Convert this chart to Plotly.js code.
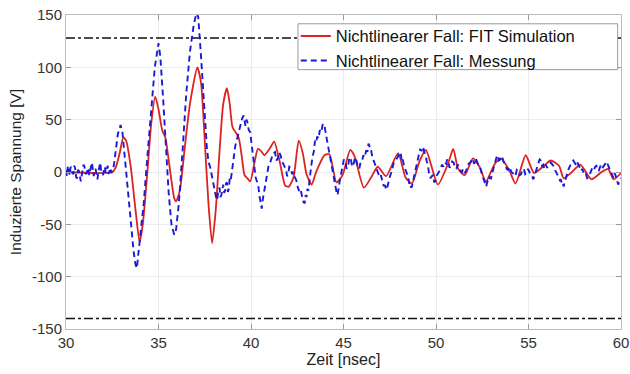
<!DOCTYPE html>
<html>
<head>
<meta charset="utf-8">
<script src="https://cdn.plot.ly/plotly-3.0.1.min.js"></script>
<style>html,body{margin:0;padding:0;background:#fff;}#chart{width:630px;height:374px;}</style>
</head>
<body>
<div id="chart"></div>
<script>
// FIT simulation (red, solid): [time ns, voltage V]
const simPoints = [[30,0],[32.5,0],[32.7,5],[32.9,18],[33.1,33],[33.25,30],[33.5,5],[33.75,-35],[33.98,-67],[34.15,-50],[34.4,0],[34.6,45],[34.82,72],[35.0,60],[35.2,40],[35.37,33],[35.6,5],[35.85,-25],[35.95,-28],[36.15,-18],[36.4,20],[36.7,65],[37.1,100],[37.3,85],[37.5,30],[37.7,-30],[37.9,-68],[38.1,-35],[38.3,20],[38.5,65],[38.7,80],[38.85,65],[39.0,43],[39.33,33],[39.5,15],[39.65,-3],[39.8,-6],[39.96,-9],[40.2,10],[40.37,22],[40.55,20],[40.72,16],[41.0,22],[41.25,29],[41.55,10],[41.85,-13],[42.05,-14],[42.3,-5],[42.58,30],[42.8,18],[43.0,-2],[43.28,-12],[43.52,0],[43.97,16],[44.24,17],[44.62,-10],[44.95,-3],[45.36,21],[45.6,15],[46.1,-15],[46.5,-5],[46.85,5],[47.3,-4],[47.95,18],[48.35,-5],[48.7,-11],[49.1,10],[49.45,21],[50.1,-12],[50.65,8],[50.93,22],[51.2,3],[51.55,-3],[52.0,13],[52.35,5],[52.7,-9],[53.15,7],[53.5,13],[53.95,2],[54.3,-11],[54.85,16],[55.3,-1],[55.9,7],[56.2,11],[56.65,6],[56.9,-6],[57.35,0],[57.8,7],[58.4,-7],[58.95,0],[59.3,3],[59.6,-7],[60,-1]];

// Measurement (blue, dashed): [time ns, voltage V]
const measPoints = [
[30.00,2],[30.05,-4],[30.10,6],[30.15,1],[30.20,-3],[30.25,5],[30.30,4],[30.35,-1],[30.40,-2],[30.45,6],[30.50,3],[30.55,-5],[30.60,-6],[30.65,2],[30.70,1],[30.75,-4],[30.80,-9],[30.85,-3],[30.90,2],[30.95,7],
[31.00,5],[31.05,-1],[31.10,-2],[31.15,3],[31.20,4],[31.25,-3],[31.30,0],[31.35,5],[31.40,9],[31.45,1],[31.50,-4],[31.55,2],[31.60,3],[31.65,-2],[31.70,-7],[31.75,0],[31.80,6],[31.85,9],[31.90,1],[31.95,-2],
[32.00,-3],[32.05,2],[32.10,5],[32.15,-1],[32.20,2],[32.25,6],[32.30,-2],[32.35,1],[32.40,4],[32.45,-1],[32.50,1],[32.55,3],[32.60,8],
[32.7,22],[32.8,36],[32.95,45],[33.05,38],[33.2,10],[33.35,-20],[33.5,-50],[33.65,-75],[33.75,-88],[33.83,-92],[33.9,-80],[34.0,-65],[34.2,-30],[34.4,15],[34.6,60],[34.8,100],[35.0,123],[35.1,110],[35.25,70],[35.4,20],[35.55,-20],[35.7,-50],[35.85,-60],[35.95,-55],[36.1,-30],[36.3,20],[36.5,75],[36.7,115],[36.9,140],[37.05,152],[37.15,148],[37.3,110],[37.45,65],[37.55,37],
[37.62,22],[37.7,10],[37.8,4],[37.9,-5],[37.97,-12],[38.05,-20],[38.11,-24],[38.17,-27],[38.23,-18],[38.3,-15],[38.35,-24],[38.4,-22],[38.45,-14],[38.5,-12],[38.55,-20],[38.6,-18],[38.65,-11],[38.7,-10],[38.75,-19],[38.8,-16],[38.85,-6],[38.9,-8],[38.95,-2],
[39.0,5],[39.07,14],[39.15,25],[39.24,31],[39.33,37],[39.39,43],[39.45,45],[39.52,51],[39.6,54],[39.65,46],[39.7,44],[39.75,50],[39.8,48],[39.88,40],[39.96,38],
[40.03,27],[40.1,15],[40.17,5],[40.25,-5],[40.32,-9],[40.4,-14],[40.45,-22],[40.5,-28],[40.54,-31],[40.58,-35],[40.64,-26],[40.7,-20],[40.77,-14],[40.85,-5],[40.9,-1],[40.94,5],
[41.02,8],[41.1,12],[41.2,18],[41.3,19],[41.37,11],[41.45,13],[41.52,19],[41.6,16],[41.67,10],[41.74,8],[41.82,4],[41.9,2],[41.95,-4],
[42.0,-3],[42.07,5],[42.15,4],[42.22,-2],[42.3,0],[42.37,-5],[42.45,-8],[42.52,-14],[42.6,-18],[42.67,-16],[42.75,-22],[42.82,-28],[42.9,-30],[42.95,-22],
[43.0,-24],[43.05,-16],[43.1,-18],[43.17,-4],[43.25,5],[43.32,14],[43.4,20],[43.46,30],[43.52,28],[43.58,34],[43.65,32],[43.72,40],[43.8,38],[43.88,46],[43.97,45],
[44.01,40],[44.05,36],[44.1,30],[44.15,27],[44.22,18],[44.3,12],[44.36,5],[44.42,2],[44.48,-8],[44.55,-12],[44.62,-19],[44.68,-22],[44.74,-14],[44.8,-8],[44.88,-1],[44.95,5],
[45.02,12],[45.1,10],[45.17,3],[45.25,6],[45.32,14],[45.4,12],[45.47,5],[45.55,8],[45.62,14],[45.7,11],[45.77,5],[45.85,3],[45.92,9],
[46.0,10],[46.07,16],[46.15,14],[46.22,20],[46.3,20],[46.35,27],[46.4,25],[46.45,20],[46.5,20],[46.57,13],[46.65,10],[46.72,6],[46.8,3],[46.87,-2],[46.95,-5],
[47.02,-3],[47.1,-8],[47.17,-13],[47.25,-13],[47.3,-17],[47.36,-15],[47.43,-9],[47.5,-5],[47.57,-1],[47.65,4],[47.72,9],[47.8,10],[47.87,12],[47.95,15],
[48.02,19],[48.1,17],[48.15,10],[48.2,12],[48.27,6],[48.34,3],[48.42,-2],[48.5,-5],[48.55,-11],[48.6,-10],[48.65,-15],[48.7,-14],[48.77,-8],[48.85,-2],[48.92,5],
[49.0,12],[49.07,17],[49.14,22],[49.22,20],[49.3,24],[49.37,19],[49.45,15],[49.5,10],[49.55,8],[49.62,-1],[49.7,-6],[49.77,-4],[49.85,-3],[49.9,-10],[49.95,-9],
[50.02,-4],[50.1,-2],[50.17,1],[50.25,3],[50.32,7],[50.4,5],[50.47,9],[50.55,8],[50.6,12],[50.67,10],[50.73,4],[50.8,6],[50.87,10],[50.95,9],
[51.02,5],[51.1,3],[51.17,7],[51.25,5],[51.32,1],[51.4,0],[51.47,3],[51.55,-1],[51.62,1],[51.7,4],[51.77,8],[51.85,9],[51.92,11],
[52.0,13],[52.05,8],[52.1,9],[52.15,13],[52.2,11],[52.28,7],[52.36,6],[52.43,1],[52.5,-3],[52.55,-6],[52.6,-8],[52.65,-12],[52.71,-14],[52.78,-9],[52.85,-10],[52.9,-5],[52.98,-6],
[53.04,-1],[53.1,3],[53.15,8],[53.2,10],[53.27,14],[53.34,16],[53.4,11],[53.47,12],[53.53,15],[53.6,13],[53.67,9],[53.75,7],[53.82,3],[53.9,2],[53.95,5],
[54.0,4],[54.07,0],[54.15,-1],[54.22,-4],[54.3,-3],[54.37,2],[54.45,1],[54.52,-3],[54.6,-2],[54.67,2],[54.75,3],[54.82,-2],[54.9,-1],[54.97,3],
[55.05,0],[55.12,-3],[55.2,-4],[55.25,-7],[55.3,-5],[55.37,-1],[55.45,2],[55.5,6],[55.55,8],[55.6,12],[55.66,11],[55.73,6],[55.8,7],[55.85,3],[55.9,5],[55.95,7],
[56.0,4],[56.07,5],[56.15,7],[56.2,9],[56.28,7],[56.34,6],[56.4,3],[56.47,1],[56.55,-2],[56.62,-5],[56.7,-8],[56.75,-7],[56.8,-11],[56.85,-10],[56.9,-14],[56.95,-10],
[57.0,-7],[57.05,-4],[57.1,0],[57.17,3],[57.25,6],[57.3,8],[57.35,10],[57.42,11],[57.5,8],[57.56,7],[57.62,10],[57.68,8],[57.75,5],[57.8,2],[57.85,1],[57.9,3],[57.97,-1],
[58.03,-3],[58.1,-2],[58.17,-6],[58.25,-5],[58.32,-2],[58.4,0],[58.45,4],[58.5,3],[58.55,2],[58.6,5],[58.67,6],[58.75,2],[58.8,1],[58.85,4],[58.9,6],[58.96,3],
[59.03,5],[59.1,7],[59.17,8],[59.23,10],[59.29,7],[59.35,4],[59.42,1],[59.5,-2],[59.55,-4],[59.6,-6],[59.65,-1],[59.7,-3],[59.75,-6],[59.8,-8],[59.85,-12],[59.87,-11],[59.93,-7],[60.0,-6]
];

// limit lines (black dash-dot)
const limitTime = [30, 60];
const upperLimit = [128, 128];
const lowerLimit = [-140, -140];

const simName = 'Nichtlinearer Fall: FIT Simulation';
const measName = 'Nichtlinearer Fall: Messung';
const xTicks = [30,35,40,45,50,55,60];
const yTicks = [-150,-100,-50,0,50,100,150];

const FONT = 'Liberation Sans, Arial, Helvetica, sans-serif';

const traces = [
  {x: limitTime, y: upperLimit, mode: 'lines', showlegend: false, hoverinfo: 'skip',
   line: {color: '#111111', width: 1.6, dash: 'dashdot'}},
  {x: limitTime, y: lowerLimit, mode: 'lines', showlegend: false, hoverinfo: 'skip',
   line: {color: '#111111', width: 1.6, dash: 'dashdot'}},
  {x: simPoints.map(p => p[0]), y: simPoints.map(p => p[1]), mode: 'lines', name: simName,
   line: {color: '#dd2222', width: 1.8, shape: 'spline', smoothing: 0.6}},
  {x: measPoints.map(p => p[0]), y: measPoints.map(p => p[1]), mode: 'lines', name: measName,
   line: {color: '#1a1ad6', width: 1.9, dash: '6px,4px'}}
];

const axisCommon = {
  showline: true, mirror: 'ticks', linecolor: '#bdbdbd', linewidth: 1,
  showgrid: true, gridcolor: '#ebebeb', gridwidth: 1,
  ticks: 'inside', ticklen: 5, tickcolor: '#9a9a9a', ticklabeloverflow: 'allow',
  zeroline: false, tickfont: {family: FONT, size: 15, color: '#333333'}
};

const layout = {
  width: 630, height: 374,
  margin: {l: 66, r: 9, t: 15, b: 45},
  paper_bgcolor: '#ffffff', plot_bgcolor: '#ffffff',
  font: {family: FONT, color: '#222222'},
  xaxis: Object.assign({}, axisCommon, {
    range: [30, 60], tickvals: xTicks, ticktext: xTicks.map(String),
    title: {text: 'Zeit [nsec]', font: {size: 16, color: '#222222'}, standoff: 2}
  }),
  yaxis: Object.assign({}, axisCommon, {
    range: [-150, 150], tickvals: yTicks, ticktext: yTicks.map(String),
    title: {text: 'Induzierte Spannung [V]', font: {size: 15.5, color: '#222222'}, standoff: 6}
  }),
  shapes: [{
    type: 'rect', xref: 'paper', yref: 'paper', layer: 'above',
    x0: 0.418, x1: 0.994, y0: 0.826, y1: 0.972,
    fillcolor: '#ffffff', line: {color: '#9a9a9a', width: 1}
  }],
  legend: {
    x: 0.414, y: 0.988, xanchor: 'left', yanchor: 'top',
    bgcolor: 'rgba(0,0,0,0)', borderwidth: 0,
    font: {family: FONT, size: 16.5, color: '#111111'}, itemwidth: 30,
    tracegroupgap: 0
  },
  showlegend: true
};

Plotly.newPlot('chart', traces, layout, {displayModeBar: false, staticPlot: true});
</script>
</body>
</html>
